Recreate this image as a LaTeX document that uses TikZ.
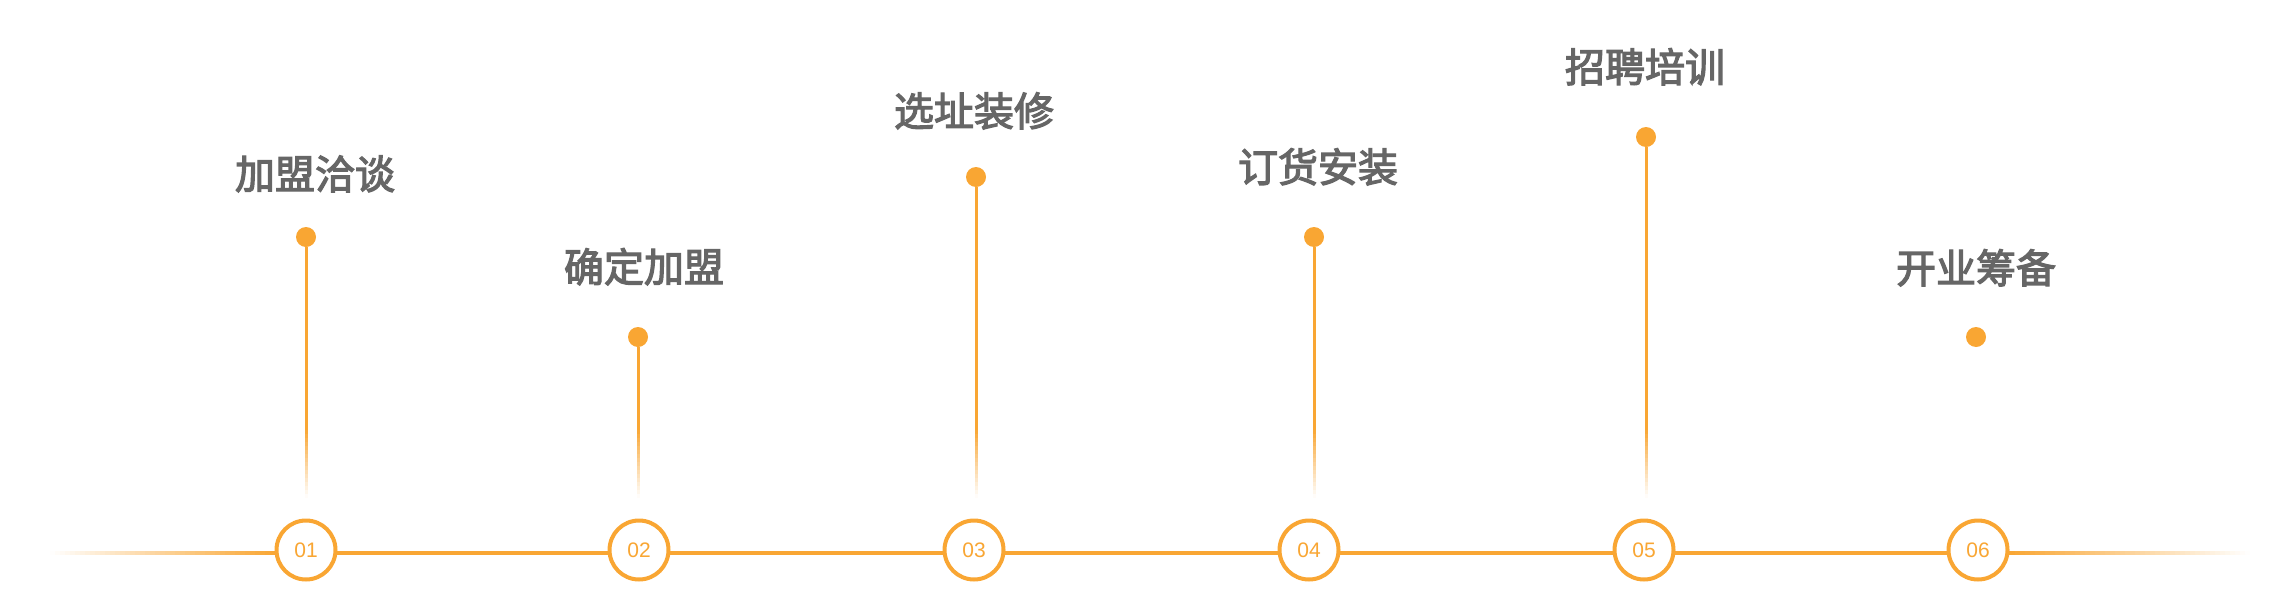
\documentclass[tikz,border=0pt]{standalone}
\usepackage{fontspec}
\newfontfamily\cjk{Noto Sans CJK SC}[FakeBold=3]
\newfontfamily\numfont{Liberation Sans}
\definecolor{org}{RGB}{249,166,51}
\definecolor{txtgray}{RGB}{102,102,102}
\tikzset{
  stepnum/.style={circle,draw=org,line width=4pt,fill=white,minimum size=59pt,inner sep=0pt,
    text=org,font=\numfont\fontsize{21}{24}\selectfont},
  stepdot/.style={circle,fill=org,minimum size=20pt,inner sep=0pt},
  steplabel/.style={anchor=base,text=txtgray,inner sep=0pt,font=\cjk\fontsize{40}{48}\selectfont},
  stem/.style={draw=org,line width=3pt},
  mainline/.style={draw=org,line width=4pt}
}
\begin{document}
\begin{tikzpicture}[x=1pt,y=-1pt]
\useasboundingbox (0,0) rectangle (2294,608);
% main line
\coordinate (hl) at (275,553);
\coordinate (hr) at (2010,553);
\foreach \i in {0,...,44}{
  \pgfmathsetmacro\p{100*(\i+0.5)/45}
  \draw[draw=org!\p!white,line width=4pt] (50+5*\i,553) -- (50+5*\i+5.6,553);
}
\foreach \i in {0,...,47}{
  \pgfmathsetmacro\p{100*(\i+0.5)/48}
  \draw[draw=org!\p!white,line width=4pt] (2250-5*\i,553) -- (2250-5*\i-5.6,553);
}
\draw[mainline] (hl) -- (hr);
% stems
\foreach \n/\x/\y in {1/306/237,2/638/337,3/976/177,4/1314/237,5/1646/137}{
  \node[stepdot] (d\n) at (\x,\y) {};
  \coordinate (s\n) at (\x,430);
  \draw[stem] (d\n) -- (s\n);
  \foreach \j in {0,...,16}{
    \pgfmathsetmacro\q{100-100*(\j+0.5)/17}
    \draw[draw=org!\q!white,line width=3pt] (\x,430+4*\j-0.3) -- (\x,430+4*\j+4.3);
  }
}
\node[stepdot] (d6) at (1976,337) {};
% circles
\node[stepnum] (c1) at (306,550) {01};
\node[stepnum] (c2) at (639,550) {02};
\node[stepnum] (c3) at (974,550) {03};
\node[stepnum] (c4) at (1309,550) {04};
\node[stepnum] (c5) at (1644,550) {05};
\node[stepnum] (c6) at (1978,550) {06};
% labels
\node[steplabel] (t1) at (315,189) {加盟洽谈};
\node[steplabel] (t2) at (644,282) {确定加盟};
\node[steplabel] (t3) at (974,126) {选址装修};
\node[steplabel] (t4) at (1318,182) {订货安装};
\node[steplabel] (t5) at (1645,82) {招聘培训};
\node[steplabel] (t6) at (1976,283) {开业筹备};
\end{tikzpicture}
\end{document}
